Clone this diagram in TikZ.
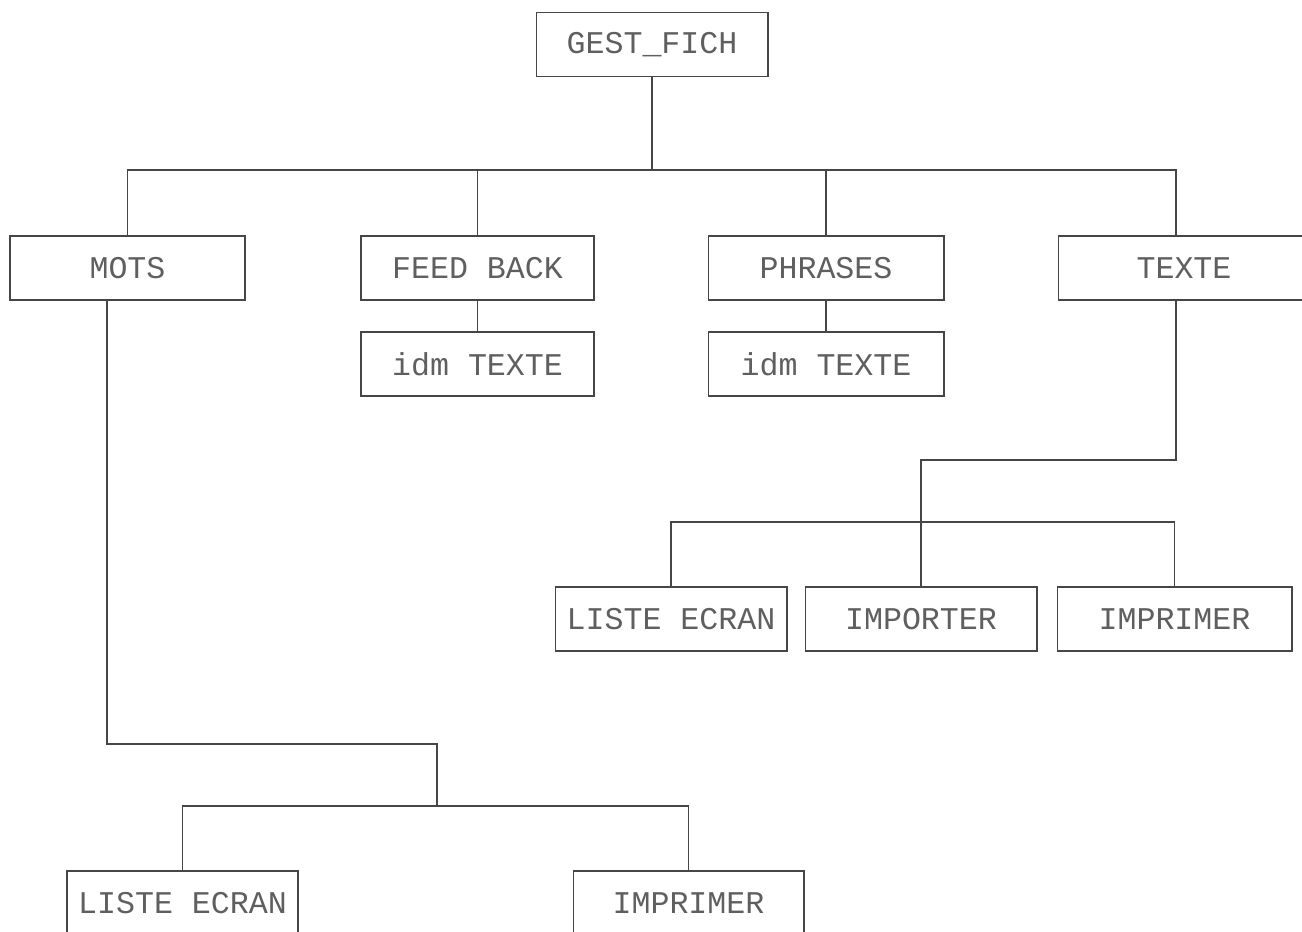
\documentclass[tikz,border=0pt]{standalone}
\usepackage{fontspec}
\setmonofont{Liberation Mono}
\usetikzlibrary{calc}
\definecolor{plotgray}{RGB}{70,70,70}
\definecolor{inkgray}{RGB}{95,95,95}
\tikzset{
	box/.style={draw, minimum height=1.28cm, inner sep=0pt, text=inkgray,
		font=\ttfamily\fontsize{18}{20}\selectfont},
}

\begin{document}
\begin{tikzpicture}[x=0.02cm, y=-0.02cm, draw=plotgray, line width=0.6pt]
		\useasboundingbox (0,0) rectangle (1302,932);
		\clip (0,0) rectangle (1302,932);
		% racine et premier niveau
		\node[box, minimum width=4.64cm] (gest) at (652,44.5) {GEST\_FICH};
		\node[box, minimum width=4.70cm] (mots) at (127.5,268) {MOTS};
		\node[box, minimum width=4.66cm] (feed) at (477.5,268) {FEED BACK};
		\node[box, minimum width=4.72cm] (phr) at (826,268) {PHRASES};
		\node[box, minimum width=5.04cm] (texte) at (1184,268) {TEXTE};
		\node[box, minimum width=4.66cm] (idmA) at (477.5,364) {idm TEXTE};
		\node[box, minimum width=4.72cm] (idmB) at (826,364) {idm TEXTE};
		% sous TEXTE
		\node[box, minimum width=4.64cm] (listeA) at (671,619) {LISTE ECRAN};
		\node[box, minimum width=4.64cm] (importer) at (921,619) {IMPORTER};
		\node[box, minimum width=4.70cm] (imprA) at (1174.5,619) {IMPRIMER};
		% sous MOTS
		\node[box, minimum width=4.62cm] (listeB) at (182.5,903) {LISTE ECRAN};
		\node[box, minimum width=4.62cm] (imprB) at (688.5,903) {IMPRIMER};
		
		\coordinate (top) at (652,170);
		\draw (gest) -- (top);
		\draw (mots.north) |- (top) -| ([xshift=-0.16cm]texte.north);
		\draw (feed.north) -- (feed.north |- top);
		\draw (phr.north) -- (phr.north |- top);
		\draw (feed) -- (idmA);
		\draw (phr) -- (idmB);
		
		% name-level-branch
		\coordinate (t1) at (921,460);
		\coordinate (t2) at (921,522);
		\draw ([xshift=-0.16cm]texte.south) |- (t1) -- (t2);
		\draw (listeA.north) |- (t2) -| (imprA.north);
		\draw (importer) -- (t2);
		
		\coordinate (m1) at (437,744);
		\coordinate (m2) at (437,806);
		\draw ([xshift=-0.41cm]mots.south) |- (m1) -- (m2);
		\draw (listeB.north) |- (m2) -| (imprB.north);
	\end{tikzpicture}
\end{document}
